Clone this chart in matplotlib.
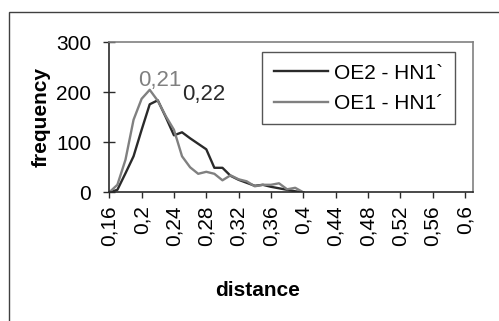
import numpy as np
import matplotlib
matplotlib.use("Agg")
import matplotlib.pyplot as plt
from matplotlib.patches import Rectangle

plt.rcParams['font.family'] = ['Liberation Sans', 'DejaVu Sans']

# distance categories (step 0.01) and frequencies
distance = [0.16, 0.17, 0.18, 0.19, 0.20, 0.21, 0.22, 0.23, 0.24, 0.25, 0.26, 0.27, 0.28,
            0.29, 0.30, 0.31, 0.32, 0.33, 0.34, 0.35, 0.36, 0.37, 0.38, 0.39, 0.40]
oe2_hn1 = [0, 5, 38, 72, 125, 176, 184, 150, 114, 120, 108, 97, 86,
           49, 49, 33, 25, 19, 13, 15, 11, 8, 5, 2, 0]
oe1_hn1 = [0, 15, 65, 145, 187, 205, 183, 152, 125, 72, 50, 37, 41,
           37, 24, 34, 26, 22, 12, 15, 15, 18, 6, 9, 0]
labels = ["OE2 - HN1`", "OE1 - HN1\u00b4"]
peak_labels = ["0,22", "0,21"]
x_ticks = [0.16, 0.20, 0.24, 0.28, 0.32, 0.36, 0.40, 0.44, 0.48, 0.52, 0.56, 0.60]
y_ticks = [0, 100, 200, 300]

dark = '#2a2a2a'
grey = '#808080'
fs = 15

W, H = 499, 321
fig = plt.figure(figsize=(W / 100, H / 100), dpi=100)

# outer chart frame
fig.patches.append(Rectangle((9 / W, -0.1), 1.2, 1.1 - 12 / H, transform=fig.transFigure,
                             fill=False, edgecolor='#404040', linewidth=1))

ax = fig.add_axes([109.3 / W, 1 - 192.3 / H, (473 - 109.3) / W, (192.3 - 42.3) / H])

l1, = ax.plot(distance, oe2_hn1, color=dark, linewidth=1.7)
l2, = ax.plot(distance, oe1_hn1, color=grey, linewidth=1.7)

# peak labels
for ys, txt, col, off in [(oe2_hn1, peak_labels[0], dark, (33, 4)),
                          (oe1_hn1, peak_labels[1], grey, (7, 7))]:
    i = int(np.argmax(ys))
    ax.annotate(txt, xy=(distance[i], ys[i]), xytext=off, textcoords='offset points',
                ha='center', va='center', color=col, fontsize=16)

ax.set_xlim(0.16, 0.61)
ax.set_ylim(0, 300)
ax.set_xticks(x_ticks)
ax.set_xticklabels([('%g' % round(v, 2)).replace('.', ',') for v in x_ticks],
                   rotation=90, fontsize=fs)
ax.set_yticks(y_ticks)
ax.set_yticklabels([str(v) for v in y_ticks], fontsize=fs)
ax.tick_params(axis='y', direction='inout', length=8, width=1, color=dark, pad=9)
ax.tick_params(axis='x', direction='out', length=4.5, width=1, color=dark, pad=5)

for s in ['left', 'bottom']:
    ax.spines[s].set_color(dark)
    ax.spines[s].set_linewidth(1.2)
for s in ['top', 'right']:
    ax.spines[s].set_color(grey)
    ax.spines[s].set_linewidth(1.2)

ax.set_ylabel('frequency', fontsize=fs, fontweight='bold', labelpad=4)
fig.text(258 / W, 1 - 290 / H, 'distance', fontsize=fs, fontweight='bold',
         ha='center', va='center')

leg = ax.legend([l1, l2], labels, loc='upper left', bbox_to_anchor=(0.42, 0.935),
                fontsize=fs, frameon=True, fancybox=False, edgecolor=dark,
                handlelength=2.6, handletextpad=0.3, labelspacing=0.55, borderpad=0.55,
                borderaxespad=0)
leg.get_frame().set_linewidth(1)

fig.savefig('out.png', dpi=100)
